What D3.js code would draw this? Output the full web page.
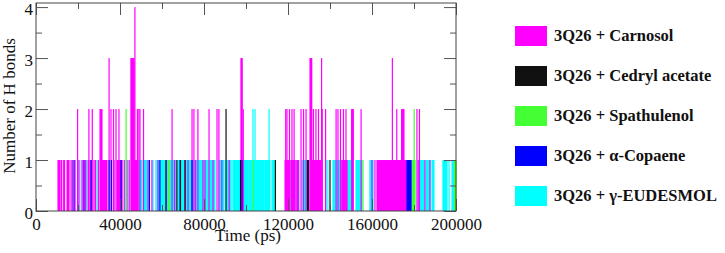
<!DOCTYPE html>
<html>
<head>
<meta charset="utf-8">
<script src="https://cdn.jsdelivr.net/npm/d3@7"></script>
<style>
    body { margin: 0; background: #fff; }
    svg { display: block; }
</style>
</head>
<body>
<div id="chart"></div>
<script>

// Number of H bonds over time, each entry: [start ps, end ps, H bonds]
var carnosol = [
    [10500, 11400, 1], [12100, 12100, 1], [13000, 13000, 1], [13600, 13600, 1],
    [14800, 15700, 1], [16700, 16700, 1], [17300, 17300, 1], [18600, 18600, 1],
    [19800, 19800, 2], [20400, 20400, 1], [21900, 21900, 1], [22400, 22400, 1],
    [23600, 23600, 1], [24800, 25200, 1], [25200, 25200, 2], [26000, 26000, 1],
    [26800, 26800, 2], [27600, 27600, 1], [28300, 28300, 1], [29700, 29700, 1],
    [30500, 31400, 2], [31400, 33800, 1], [34800, 34800, 3], [35700, 35700, 2],
    [36900, 36900, 2], [37200, 37200, 1], [38100, 38100, 2], [39500, 39500, 2],
    [38600, 41000, 1], [42000, 42000, 1], [43300, 43300, 1], [44400, 44400, 1],
    [45200, 46700, 3], [47100, 47100, 4], [46200, 48100, 1],
    [48300, 48300, 2], [49000, 49000, 2], [49500, 49500, 2], [51200, 51200, 2],
    [53300, 53300, 1], [55200, 55200, 1], [58100, 58100, 1], [62000, 62000, 1],
    [64800, 64800, 2], [66000, 66000, 1], [70900, 70900, 1], [72400, 72400, 1],
    [74300, 74300, 2], [75200, 75200, 2], [76000, 76000, 1], [77100, 77100, 2],
    [79500, 79500, 1], [80500, 80500, 1], [82400, 82400, 2], [84300, 84300, 1],
    [86200, 86200, 2], [87100, 87100, 2], [88500, 88500, 1], [92000, 92000, 1],
    [97600, 98200, 3], [98700, 98700, 2],
    [118600, 120600, 1], [121400, 123400, 1], [124200, 125000, 1],
    [118900, 118900, 2], [119500, 119500, 2], [120700, 120700, 2], [121900, 121900, 2],
    [122900, 122900, 2], [126200, 126200, 2], [127400, 127400, 2], [128600, 128600, 2],
    [130500, 131300, 3], [132100, 132100, 2], [133300, 133300, 2], [134500, 134500, 2],
    [130500, 136200, 1], [136000, 136000, 3], [136300, 136300, 2], [137900, 137900, 2],
    [142900, 142900, 2], [143800, 143800, 2], [145000, 145000, 2], [146400, 146400, 2],
    [147600, 147600, 2], [145700, 148100, 1], [150300, 151100, 2], [154800, 154800, 2],
    [160000, 160000, 1], [161400, 161400, 1], [162400, 170000, 1], [169700, 169700, 3],
    [171800, 171800, 2], [170000, 176700, 1], [174100, 175200, 2], [180000, 180000, 1],
    [181400, 181400, 2], [182000, 182000, 1], [182600, 182600, 2], [185200, 185200, 1],
    [187600, 187600, 1]
];

var cedryl = [
    [61900, 61900, 1], [67100, 67100, 1], [68800, 68800, 1], [71000, 71000, 1],
    [90500, 90500, 2], [97400, 97400, 1], [114000, 114000, 1], [129300, 129700, 1],
    [140000, 140000, 1]
];

var spathulenol = [
    [42900, 42900, 2], [63300, 63600, 1], [103300, 103300, 1], [155700, 155700, 1],
    [179000, 180500, 1], [180100, 180100, 2], [199300, 200000, 1]
];

var copaene = [
    [18100, 18100, 1], [22900, 22900, 1], [26300, 26300, 1], [34800, 34800, 1],
    [36000, 36000, 1], [40500, 40500, 1], [54000, 54000, 1], [59000, 59000, 1],
    [68600, 68600, 1], [74300, 74300, 1], [98100, 98100, 1], [176700, 178600, 1]
];

var eudesmol = [
    [17500, 17500, 1], [20900, 20900, 1], [24000, 24000, 1], [29000, 29000, 1],
    [32400, 32400, 1], [35200, 35200, 1], [42400, 42400, 1], [43800, 43800, 1],
    [48600, 50500, 1], [51400, 52900, 1],
    [53800, 53800, 1], [55700, 55700, 1], [57100, 57100, 1], [57600, 61400, 1],
    [62400, 66700, 1], [67600, 71900, 1], [72000, 73300, 1], [73600, 77300, 1],
    [77600, 81000, 1], [81400, 85200, 1], [87100, 89500, 1], [90500, 92900, 1],
    [93800, 97400, 1], [99000, 101000, 1], [101400, 105000, 1], [105500, 108500, 1],
    [109000, 111400, 1], [103300, 103300, 2], [104300, 104300, 2], [111000, 111000, 2],
    [112400, 113800, 1], [121000, 121000, 1], [123800, 123800, 1], [125200, 125200, 1],
    [126700, 129000, 1], [138100, 138100, 1], [139000, 139000, 1], [141400, 145700, 1],
    [148100, 150000, 1], [152400, 155200, 1], [159000, 160500, 1], [181900, 184800, 1],
    [185700, 187600, 1], [188600, 189500, 1], [193800, 195700, 1], [196700, 196700, 1],
    [198100, 199300, 1]
];

var seriesNames = [ '3Q26 + Carnosol', '3Q26 + Cedryl acetate', '3Q26 + Spathulenol',
                    '3Q26 + \u03b1-Copaene', '3Q26 + \u03b3-EUDESMOL' ];
var seriesColors = [ '#ff00ff', '#111111', '#44ff33', '#0000ff', '#00ffff' ];
var seriesData = [ carnosol, cedryl, spathulenol, copaene, eudesmol ];

// draw order: cyan underneath, then the others
var drawOrder = [ 4, 0, 2, 3, 1 ];

var xTicks = [ 0, 40000, 80000, 120000, 160000, 200000 ];
var xMinor = [ 20000, 60000, 100000, 140000, 180000 ];
var yTicks = [ 0, 1, 2, 3, 4 ];
var yMinor = [ 0.5, 1.5, 2.5, 3.5 ];

var serif = "'Liberation Serif', 'Times New Roman', 'DejaVu Serif', serif";

var W = 725, H = 253;
var plot = { left: 36, right: 456, top: 3, bottom: 211 };

var x = d3.scaleLinear().domain( [0, 200000] ).range( [plot.left, plot.right] );
var y = d3.scaleLinear().domain( [0, 4.08] ).range( [plot.bottom, plot.top] );

var svg = d3.select( '#chart' )
            .append( 'svg' )
            .attr( 'width', W )
            .attr( 'height', H );

// Bars
drawOrder.forEach( function ( k ) {

    svg.append( 'g' )
       .selectAll( 'rect' )
       .data( seriesData[k] )
       .enter().append( 'rect' )
       .attr( 'x', function ( d ) { return x( d[0] ) - 0.6; } )
       .attr( 'width', function ( d ) { return Math.max( 1.2, x( d[1] ) - x( d[0] ) + 1.2 ); } )
       .attr( 'y', function ( d ) { return y( d[2] ); } )
       .attr( 'height', function ( d ) { return y( 0 ) - y( d[2] ); } )
       .attr( 'fill', seriesColors[k] );

} );

// Axes with inward ticks on all four sides
function addAxis ( axis, transform, labels ) {
    var g = svg.append( 'g' ).attr( 'transform', transform ).call( axis );
    g.select( '.domain' ).remove();
    g.selectAll( 'line' ).attr( 'stroke', '#555' );
    if ( labels ) {
        g.attr( 'font-family', serif ).attr( 'font-size', 17 );
        g.selectAll( 'text' ).attr( 'fill', '#111' );
    } else {
        g.selectAll( 'text' ).remove();
    }
    return g;
}

addAxis( d3.axisBottom( x ).tickValues( xTicks ).tickSize( -12 ).tickPadding( 7 ).tickFormat( d3.format( 'd' ) ),
         'translate(0,' + plot.bottom + ')', true );
addAxis( d3.axisBottom( x ).tickValues( xMinor ).tickSize( -6 ), 'translate(0,' + plot.bottom + ')', false );
addAxis( d3.axisTop( x ).tickValues( xTicks ).tickSize( -12 ), 'translate(0,' + plot.top + ')', false );
addAxis( d3.axisTop( x ).tickValues( xMinor ).tickSize( -6 ), 'translate(0,' + plot.top + ')', false );

addAxis( d3.axisLeft( y ).tickValues( yTicks ).tickSize( -12 ).tickPadding( 3 ).tickFormat( d3.format( 'd' ) ),
         'translate(' + plot.left + ',0)', true )
    .selectAll( 'text' ).attr( 'dy', '0.42em' );
addAxis( d3.axisLeft( y ).tickValues( yMinor ).tickSize( -6 ), 'translate(' + plot.left + ',0)', false );
addAxis( d3.axisRight( y ).tickValues( yTicks ).tickSize( -12 ), 'translate(' + plot.right + ',0)', false );
addAxis( d3.axisRight( y ).tickValues( yMinor ).tickSize( -6 ), 'translate(' + plot.right + ',0)', false );

svg.append( 'rect' )
   .attr( 'x', plot.left )
   .attr( 'y', plot.top )
   .attr( 'width', plot.right - plot.left )
   .attr( 'height', plot.bottom - plot.top )
   .attr( 'fill', 'none' )
   .attr( 'stroke', '#444' );

// Axis titles
svg.append( 'text' )
   .attr( 'font-family', serif )
   .attr( 'font-size', 17 )
   .attr( 'fill', '#111' )
   .attr( 'text-anchor', 'middle' )
   .attr( 'x', 248 )
   .attr( 'y', 241 )
   .text( 'Time (ps)' );

svg.append( 'text' )
   .attr( 'font-family', serif )
   .attr( 'font-size', 17 )
   .attr( 'fill', '#111' )
   .attr( 'text-anchor', 'middle' )
   .attr( 'transform', 'translate(15,106) rotate(-90)' )
   .text( 'Number of H bonds' );

// Legend
var legend = svg.selectAll( '.legend' )
                .data( seriesNames ).enter()
                .append( 'g' )
                .attr( 'class', 'legend' )
                .attr( 'transform', function ( d, i ) { return 'translate(515,' + ( 26 + i * 40 ) + ')'; } );

legend.append( 'rect' )
      .attr( 'width', 32 )
      .attr( 'height', 20 )
      .attr( 'fill', function ( d, i ) { return seriesColors[i]; } );

legend.append( 'text' )
      .attr( 'x', 39 )
      .attr( 'y', 15 )
      .attr( 'font-family', serif )
      .attr( 'font-size', 16.5 )
      .attr( 'font-weight', 'bold' )
      .attr( 'fill', '#111' )
      .text( function ( d ) { return d; } );

</script>
</body>
</html>
